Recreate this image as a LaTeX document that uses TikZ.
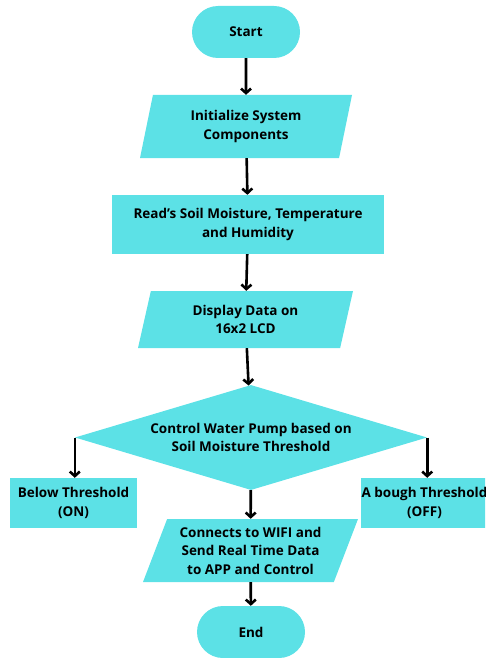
\documentclass[tikz,border=0pt]{standalone}
\usepackage{fontspec}
\setmainfont{Open Sans}
\usetikzlibrary{shapes.geometric}
\usetikzlibrary{arrows.meta}

\definecolor{flowcyan}{HTML}{5CE1E6}

\begin{document}
\begin{tikzpicture}[x=1pt,y=-1pt,
	box/.style={fill=flowcyan,inner sep=0pt,align=center,font=\bfseries\fontsize{13.5}{18.5}\selectfont},
	pill/.style={box,rectangle,rounded corners=26pt,minimum width=108pt,minimum height=52pt},
	rect/.style={box,rectangle,minimum height=50pt},
	para/.style={box,trapezium,trapezium stretches body,minimum height=63pt},
	decision/.style={box,diamond,aspect=3.35,minimum width=352pt,minimum height=105pt},
	arr/.style={line width=2.6pt,-{Straight Barb[length=4.5pt,width=10pt]}}]
	\useasboundingbox (0,0) rectangle (485,658);
	\clip (0,0) rectangle (485,658);
	\node [pill] (start) at (246,32) {Start};
	\node [para,trapezium left angle=68,trapezium right angle=112,minimum width=212pt] (init) at (246,126.5) {Initialize System\\Components};
	\node [rect,minimum width=272pt,minimum height=59pt] (read) at (248,224.5) {Read’s Soil Moisture, Temperature\\and Humidity};
	\node [para,trapezium left angle=66,trapezium right angle=114,minimum width=215pt,minimum height=57pt] (disp) at (245.5,319.5) {Display Data on\\16x2 LCD};
	\node [decision] (ctrl) at (251,437.5) {Control Water Pump based on\\Soil Moisture Threshold};
	\node [rect,minimum width=127pt] (below) at (73.5,503) {Below Threshold\\(ON)};
	\node [rect,minimum width=127pt] (above) at (424.5,503) {A bough Threshold\\(OFF)};
	\node [para,trapezium left angle=63,trapezium right angle=117,minimum width=215pt] (wifi) at (250.5,550.5) {Connects to WIFI and\\Send Real Time Data\\to APP and Control};
	\node [pill] (end) at (251,632) {End};
	\foreach \a/\b in {start/init,init/read,read/disp,disp/ctrl,ctrl/wifi,wifi/end} {
		\draw [arr] (\a) -- (\b);
	}
	\draw [arr] (ctrl.west) -- (ctrl.west |- below.north);
	\draw [arr] (ctrl.east) -- (ctrl.east |- above.north);
\end{tikzpicture}
\end{document}
